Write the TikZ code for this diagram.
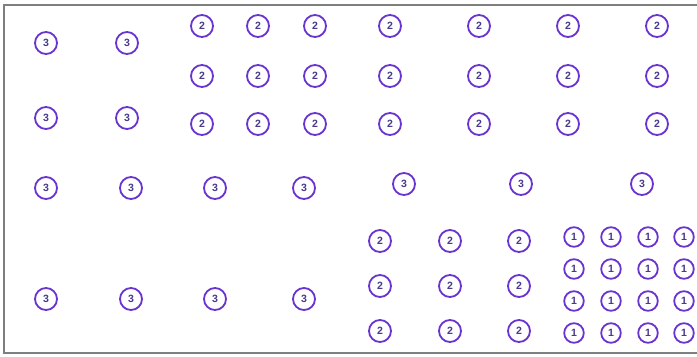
\documentclass[tikz,border=0pt]{standalone}
\usepackage{tikz}
\usepackage{fontspec}
\usetikzlibrary{positioning}
\newfontfamily\seatfont{Liberation Sans}
\definecolor{ringviolet}{HTML}{6A34D0}
\definecolor{digitink}{HTML}{4A3A8C}
\definecolor{framegray}{HTML}{7F7F7F}

\begin{document}
\begin{tikzpicture}[x=0.025cm, y=-0.025cm,
    seat/.style={circle, draw=ringviolet, line width=1.3pt, fill=white,
                 text=digitink, font=\seatfont\bfseries\fontsize{7.5}{8}\selectfont,
                 minimum size=0.55cm, inner sep=0pt},
    smallseat/.style={seat, minimum size=0.49cm}]
  \useasboundingbox (0,0) rectangle (697,356);
  % frame, open on the right
  \draw[framegray, line width=1.5pt] (697,5) -- (4,5) -- (4,353) -- (697,353);
  % threes, top left
  \foreach \x [count=\i] in {46,127}
    \foreach \y [count=\j] in {43,118}
      \node[seat] (ta\i\j) at (\x,\y) {3};
  % twos, top
  \foreach \x [count=\i] in {202,258,315,390,479,568,657}
    \foreach \y [count=\j] in {26,76,124}
      \node[seat] (tb\i\j) at (\x,\y) {2};
  % threes, middle row
  \foreach \x [count=\i] in {46,131,215,304}
    \node[seat] (tc\i) at (\x,188) {3};
  \foreach \x [count=\i] in {404,521,642}
    \node[seat] (td\i) at (\x,184) {3};
  % threes, bottom row
  \foreach \x [count=\i] in {46,131,215,304}
    \node[seat] (te\i) at (\x,299) {3};
  % twos, bottom
  \foreach \x [count=\i] in {380,450,519}
    \foreach \y [count=\j] in {241,286,331}
      \node[seat] (tf\i\j) at (\x,\y) {2};
  % ones, bottom right
  \foreach \x [count=\i] in {574,611,648,684}
    \foreach \y [count=\j] in {237,269,301,333}
      \node[smallseat] (tg\i\j) at (\x,\y) {1};
\end{tikzpicture}
\end{document}
